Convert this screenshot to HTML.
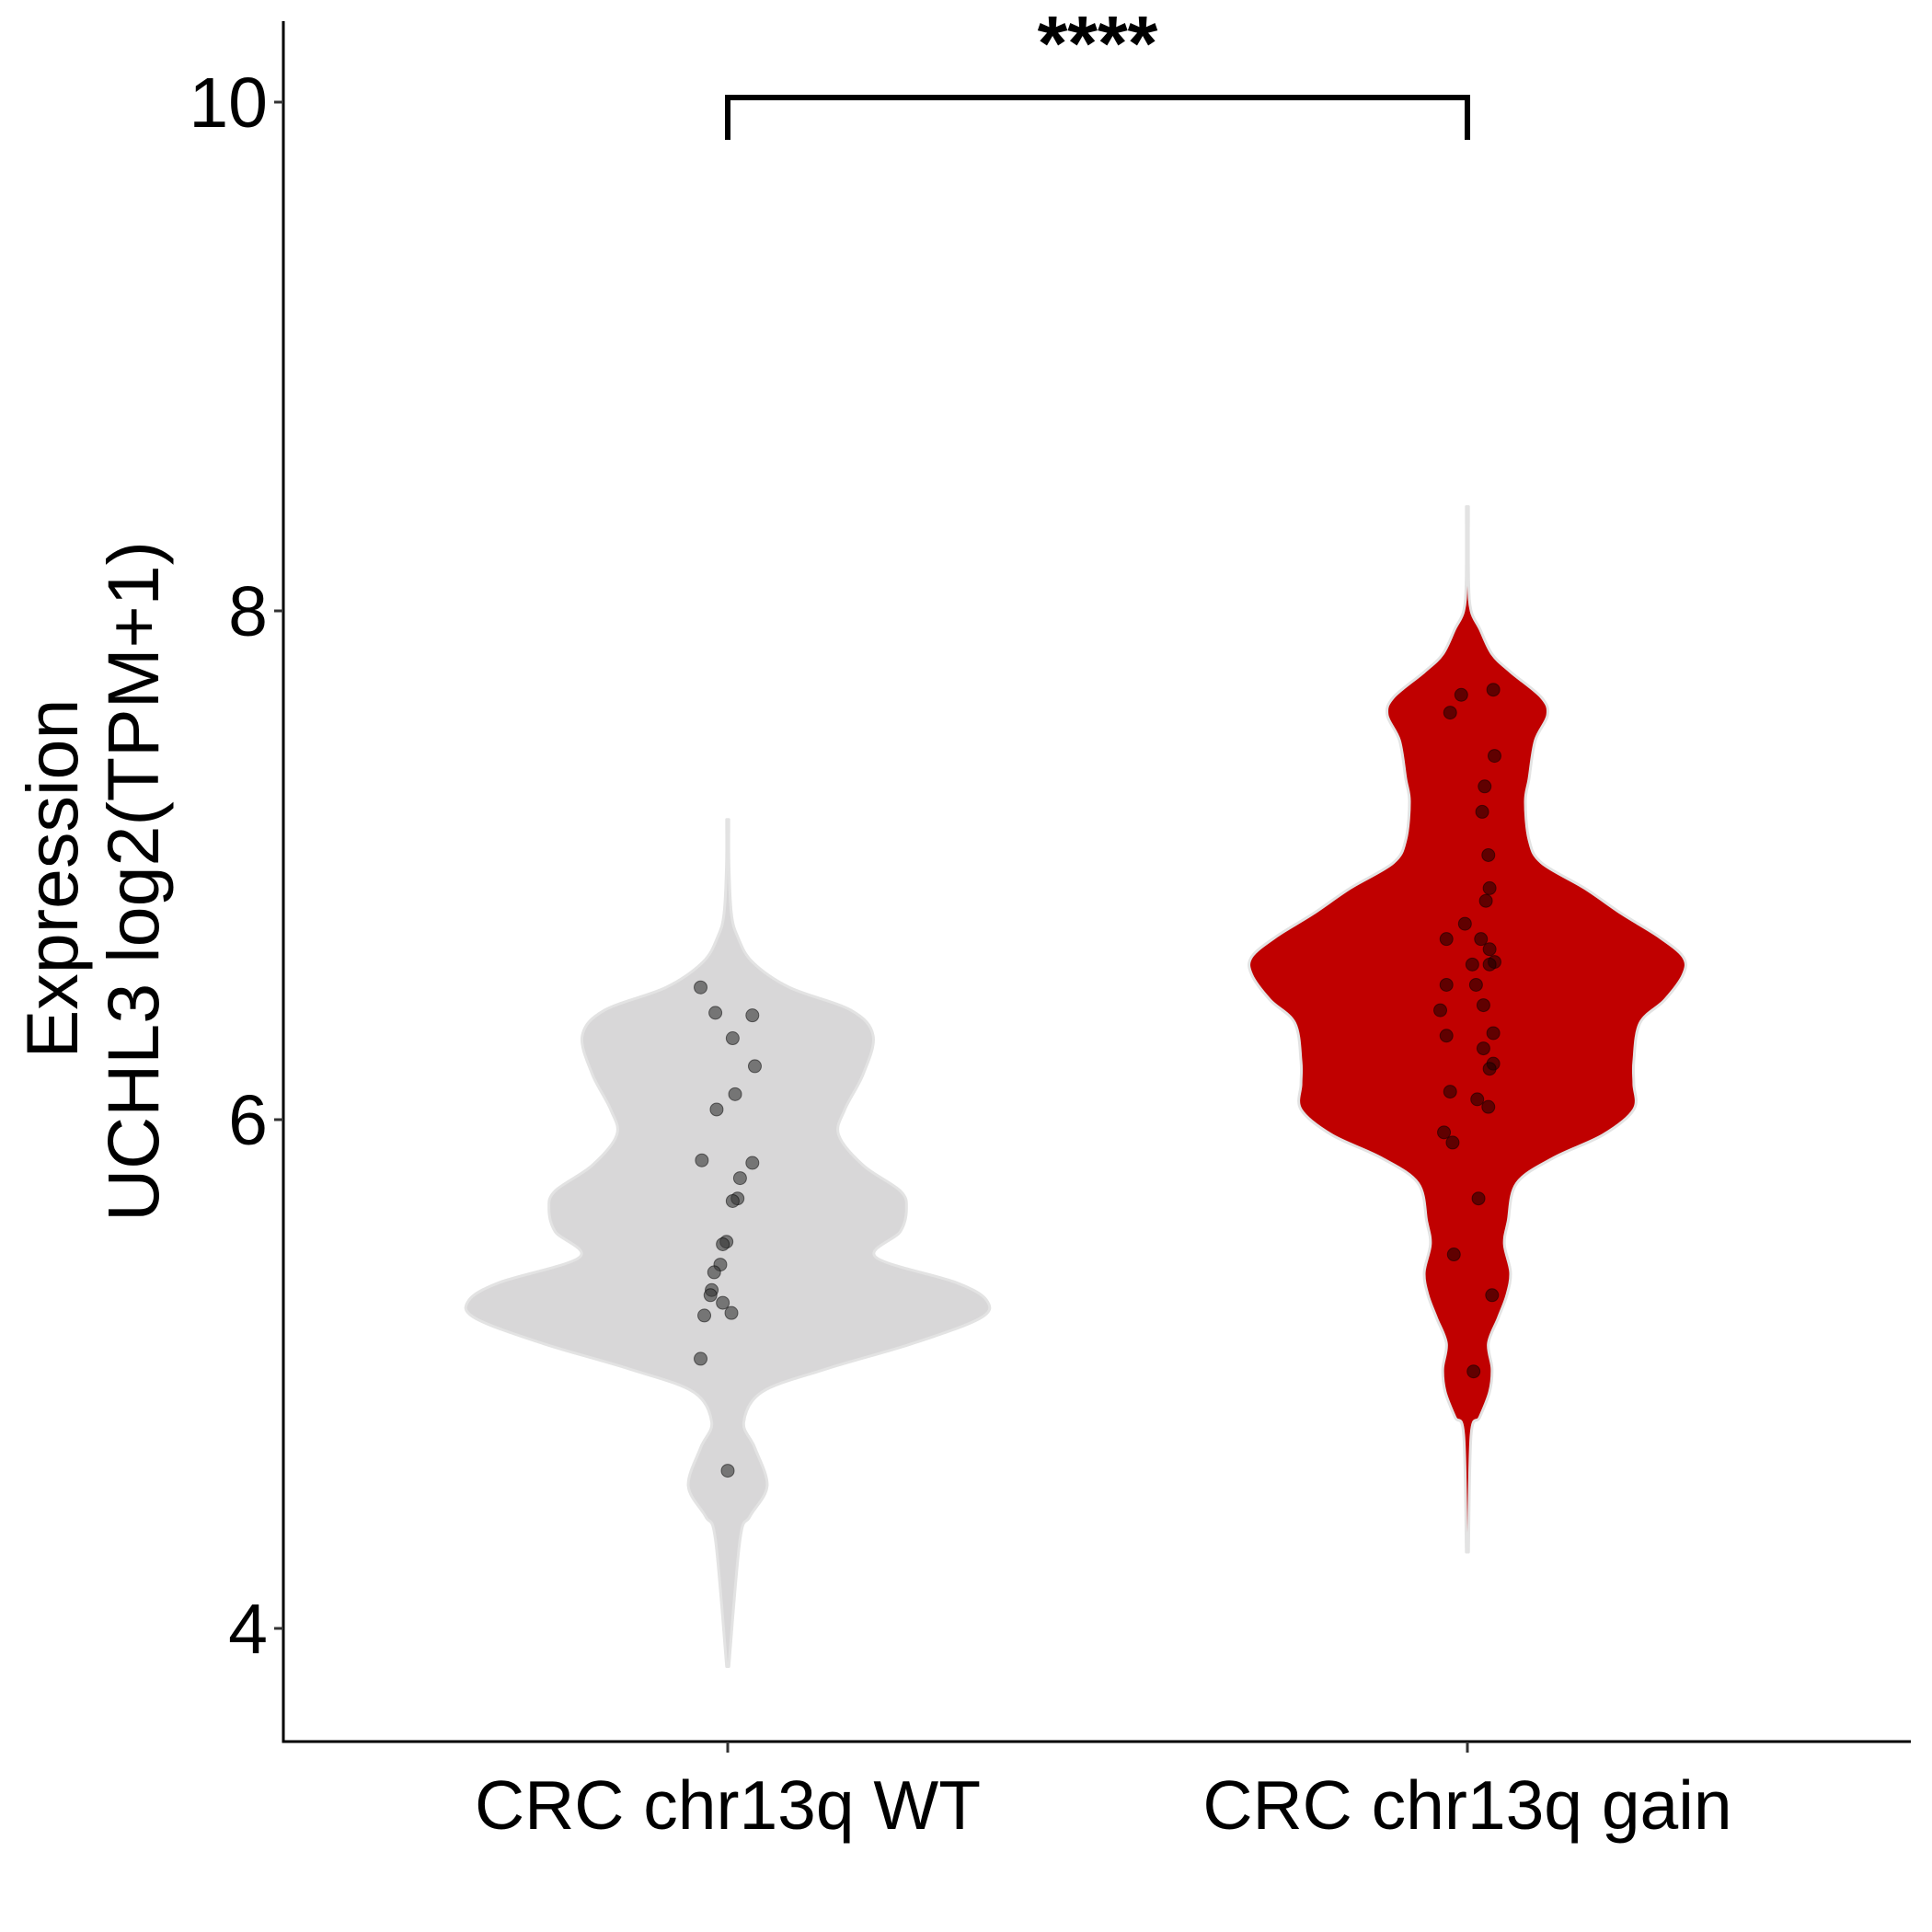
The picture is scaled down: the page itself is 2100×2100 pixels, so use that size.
<!DOCTYPE html>
<html><head><meta charset="utf-8"><style>
html,body{margin:0;padding:0;background:#fff;}
svg{display:block;font-family:"Liberation Sans",Arial,sans-serif;}
</style></head><body>
<svg id="chart" width="2100" height="2100" viewBox="0 0 2100 2100" xmlns="http://www.w3.org/2000/svg">
<rect width="2100" height="2100" fill="#fff"/>
<g id="plot"></g>
</svg>
<script>
const categories = ["CRC chr13q WT", "CRC chr13q gain"];
const yTicks = [4, 6, 8, 10];
const wtDensityY = [3.85,4.35,4.44,4.56,4.71,4.81,4.93,5.02,5.12,5.22,5.29,5.36,5.46,5.56,5.65,5.72,5.82,5.94,6.04,6.18,6.33,6.43,6.52,6.62,6.72,6.81,7.0,7.18];
const wtDensityW = [0,10,18,32,22,13,28,80,150,205,210,185,120,140,145,140,110,90,95,110,118,100,50,20,8,3,1,0];
const gainDensityY = [4.30,4.76,4.83,4.93,5.02,5.12,5.22,5.31,5.40,5.51,5.60,5.75,5.85,5.94,6.04,6.14,6.23,6.38,6.47,6.57,6.64,6.72,6.81,6.91,7.01,7.10,7.25,7.34,7.49,7.59,7.66,7.76,7.83,7.93,8.00,8.12,8.41];
const gainDensityW = [0,3,10,18,20,17,25,32,35,30,33,40,70,110,135,135,135,140,160,175,175,155,125,95,60,50,47,50,55,65,60,35,20,10,3,1,0];
const wtValues = [6.52,6.42,6.41,6.32,6.21,6.10,6.04,5.84,5.83,5.77,5.69,5.68,5.52,5.51,5.43,5.40,5.33,5.31,5.28,5.24,5.23,5.06,4.62];
const wtJitter = [-22,-10,20,4,22,6,-9,-21,20,10,8,4,-1,-4,-6,-11,-13,-14,-4,3,-19,-22,0];
const gainValues = [7.69,7.67,7.60,7.43,7.31,7.21,7.04,6.91,6.86,6.77,6.71,6.71,6.67,6.61,6.62,6.61,6.53,6.53,6.43,6.45,6.34,6.33,6.28,6.22,6.20,6.11,6.08,6.05,5.95,5.91,5.69,5.47,5.31,5.01];
const gainJitter = [21,-5,-14,22,14,12,17,18,15,-2,-17,11,18,4,22,18,-17,7,-22,13,21,-17,13,21,18,-14,8,17,-19,-12,9,-11,20,5];
const sigLabel = "****";

const NS="http://www.w3.org/2000/svg";
const g=document.getElementById('plot');
const S=1.34;
const x0=308, x1=2077, yTop=23, yBot=1893;
const catX=[791,1595];
function yScale(v){return 1217-(v-6)*276.5;}
function xScale(i){return catX[i];}
function mk(tag,attrs){const e=document.createElementNS(NS,tag);for(const k in attrs)e.setAttribute(k,attrs[k]);g.appendChild(e);return e;}

function crPath(P){
  let d='M'+P[0][0]+','+P[0][1];
  for(let i=0;i<P.length-1;i++){
    const p0=P[Math.max(i-1,0)],p1=P[i],p2=P[i+1],p3=P[Math.min(i+2,P.length-1)];
    const c1=[p1[0]+(p2[0]-p0[0])/6,p1[1]+(p2[1]-p0[1])/6];
    const c2=[p2[0]-(p3[0]-p1[0])/6,p2[1]-(p3[1]-p1[1])/6];
    d+=` C${c1[0]},${c1[1]} ${c2[0]},${c2[1]} ${p2[0]},${p2[1]}`;
  }
  return d;
}
function violin(i,ys,ws,fill,name){
  const cx=xScale(i);let right=[],left=[];
  for(let k=0;k<ys.length;k++){const w=Math.max(ws[k]*S,1.2);right.push([cx+w,yScale(ys[k])]);left.unshift([cx-w,yScale(ys[k])]);}
  const p=mk('path',{d:crPath(right)+' L'+crPath(left).slice(1)+' Z',fill:fill,stroke:'#e3e3e3','stroke-width':3,'stroke-linejoin':'round'});
  
  
}
violin(0,wtDensityY,wtDensityW,'#d8d7d8','violin-wt');
violin(1,gainDensityY,gainDensityW,'#c00000','violin-gain');

function points(i,vals,jit,fill,name){
  for(let k=0;k<vals.length;k++){
    const c=mk('circle',{cx:xScale(i)+jit[k]*S,cy:yScale(vals[k]),r:7,fill:fill,'fill-opacity':0.6,stroke:'#000','stroke-opacity':0.5,'stroke-width':1});
    
    
  }
}
points(0,wtValues,wtJitter,'#333','point-wt');
points(1,gainValues,gainJitter,'#200000','point-gain');

let a=mk('line',{x1:x0,y1:yTop,x2:x0,y2:yBot+1.5,stroke:'#000','stroke-width':3});

a=mk('line',{x1:x0-1.5,y1:yBot,x2:x1,y2:yBot,stroke:'#000','stroke-width':3});

yTicks.forEach(v=>{
  const y=yScale(v);
  const t=mk('line',{x1:x0-10,y1:y,x2:x0,y2:y,stroke:'#333','stroke-width':3});
  
  const l=mk('text',{x:x0-17,y:y+27,'text-anchor':'end','font-size':77,fill:'#000'});
  l.textContent=v;
  
});
categories.forEach((c,i)=>{
  const x=xScale(i);
  const t=mk('line',{x1:x,y1:yBot,x2:x,y2:yBot+12,stroke:'#333','stroke-width':3});
  
  const l=mk('text',{x:x,y:1988,'text-anchor':'middle','font-size':75,fill:'#000'});
  l.textContent=c;
  
});
let yt=mk('text',{x:0,y:0,'text-anchor':'middle','font-size':79,fill:'#000',transform:'translate(84,955) rotate(-90)'});
yt.textContent='Expression';

yt=mk('text',{x:0,y:0,'text-anchor':'middle','font-size':79,fill:'#000',transform:'translate(172,958) rotate(-90)'});
yt.textContent='UCHL3 log2(TPM+1)';

const br=mk('polyline',{points:`${catX[0]},152 ${catX[0]},106 ${catX[1]},106 ${catX[1]},152`,fill:'none',stroke:'#000','stroke-width':6});

const st=mk('text',{x:(catX[0]+catX[1])/2,y:76,'text-anchor':'middle','font-size':84,'font-weight':'bold',fill:'#000'});
st.textContent=sigLabel;

</script>
</body></html>
